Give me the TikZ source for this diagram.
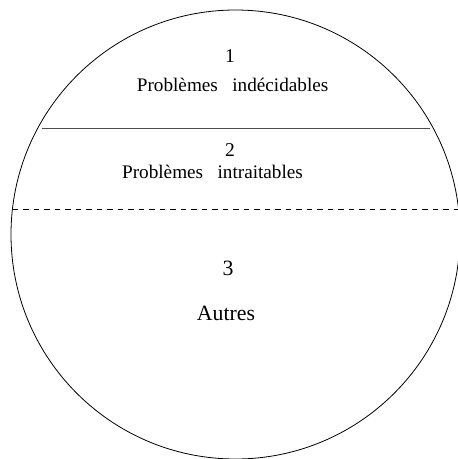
\documentclass[tikz,border=0pt]{standalone}
\usepackage{fontspec}
\setmainfont{Liberation Serif}
\usetikzlibrary{positioning}
\tikzset{
  zoneNum/.style={anchor=base, inner sep=0pt, font=\fontsize{19.5}{23}\selectfont},
  zoneName/.style={anchor=base, inner sep=0pt, font=\fontsize{19.2}{23}\selectfont},
  zoneBig/.style={anchor=base, inner sep=0pt, font=\fontsize{21.8}{26}\selectfont},
  outerLine/.style={draw=black, line width=0.8pt},
  cutLine/.style={draw=black!70, line width=1pt},
  softLine/.style={draw=black, line width=0.8pt, dash pattern=on 5.5pt off 5pt}
}

\begin{document}
\begin{tikzpicture}[x=1pt, y=-1pt]
  \useasboundingbox (0,0) rectangle (458,459);
  \clip (0,0) rectangle (458,459);

  % the whole set of problems
  \draw[outerLine] (235.5,234.5) circle[radius=224.5pt];

  \coordinate (cutL) at (42,128);
  \coordinate (cutR) at (430,128);
  \coordinate (softL) at (12.5,209);
  \coordinate (softR) at (458.5,209);
  \draw[cutLine] (cutL) -- (cutR);
  \draw[softLine] (softL) -- (softR);

  \node[zoneNum] (num1) at (230,62.7) {1};
  \node[zoneName] (undec) at (232.6,91) {Problèmes~~~indécidables};
  \node[zoneNum] (num2) at (230,156.5) {2};
  \node[zoneName] (intract) at (212.5,178.3) {Problèmes~~~intraitables};
  \node[zoneBig] (num3) at (228,275) {3};
  \node[zoneBig] (others) at (226,320) {Autres};
\end{tikzpicture}
\end{document}
